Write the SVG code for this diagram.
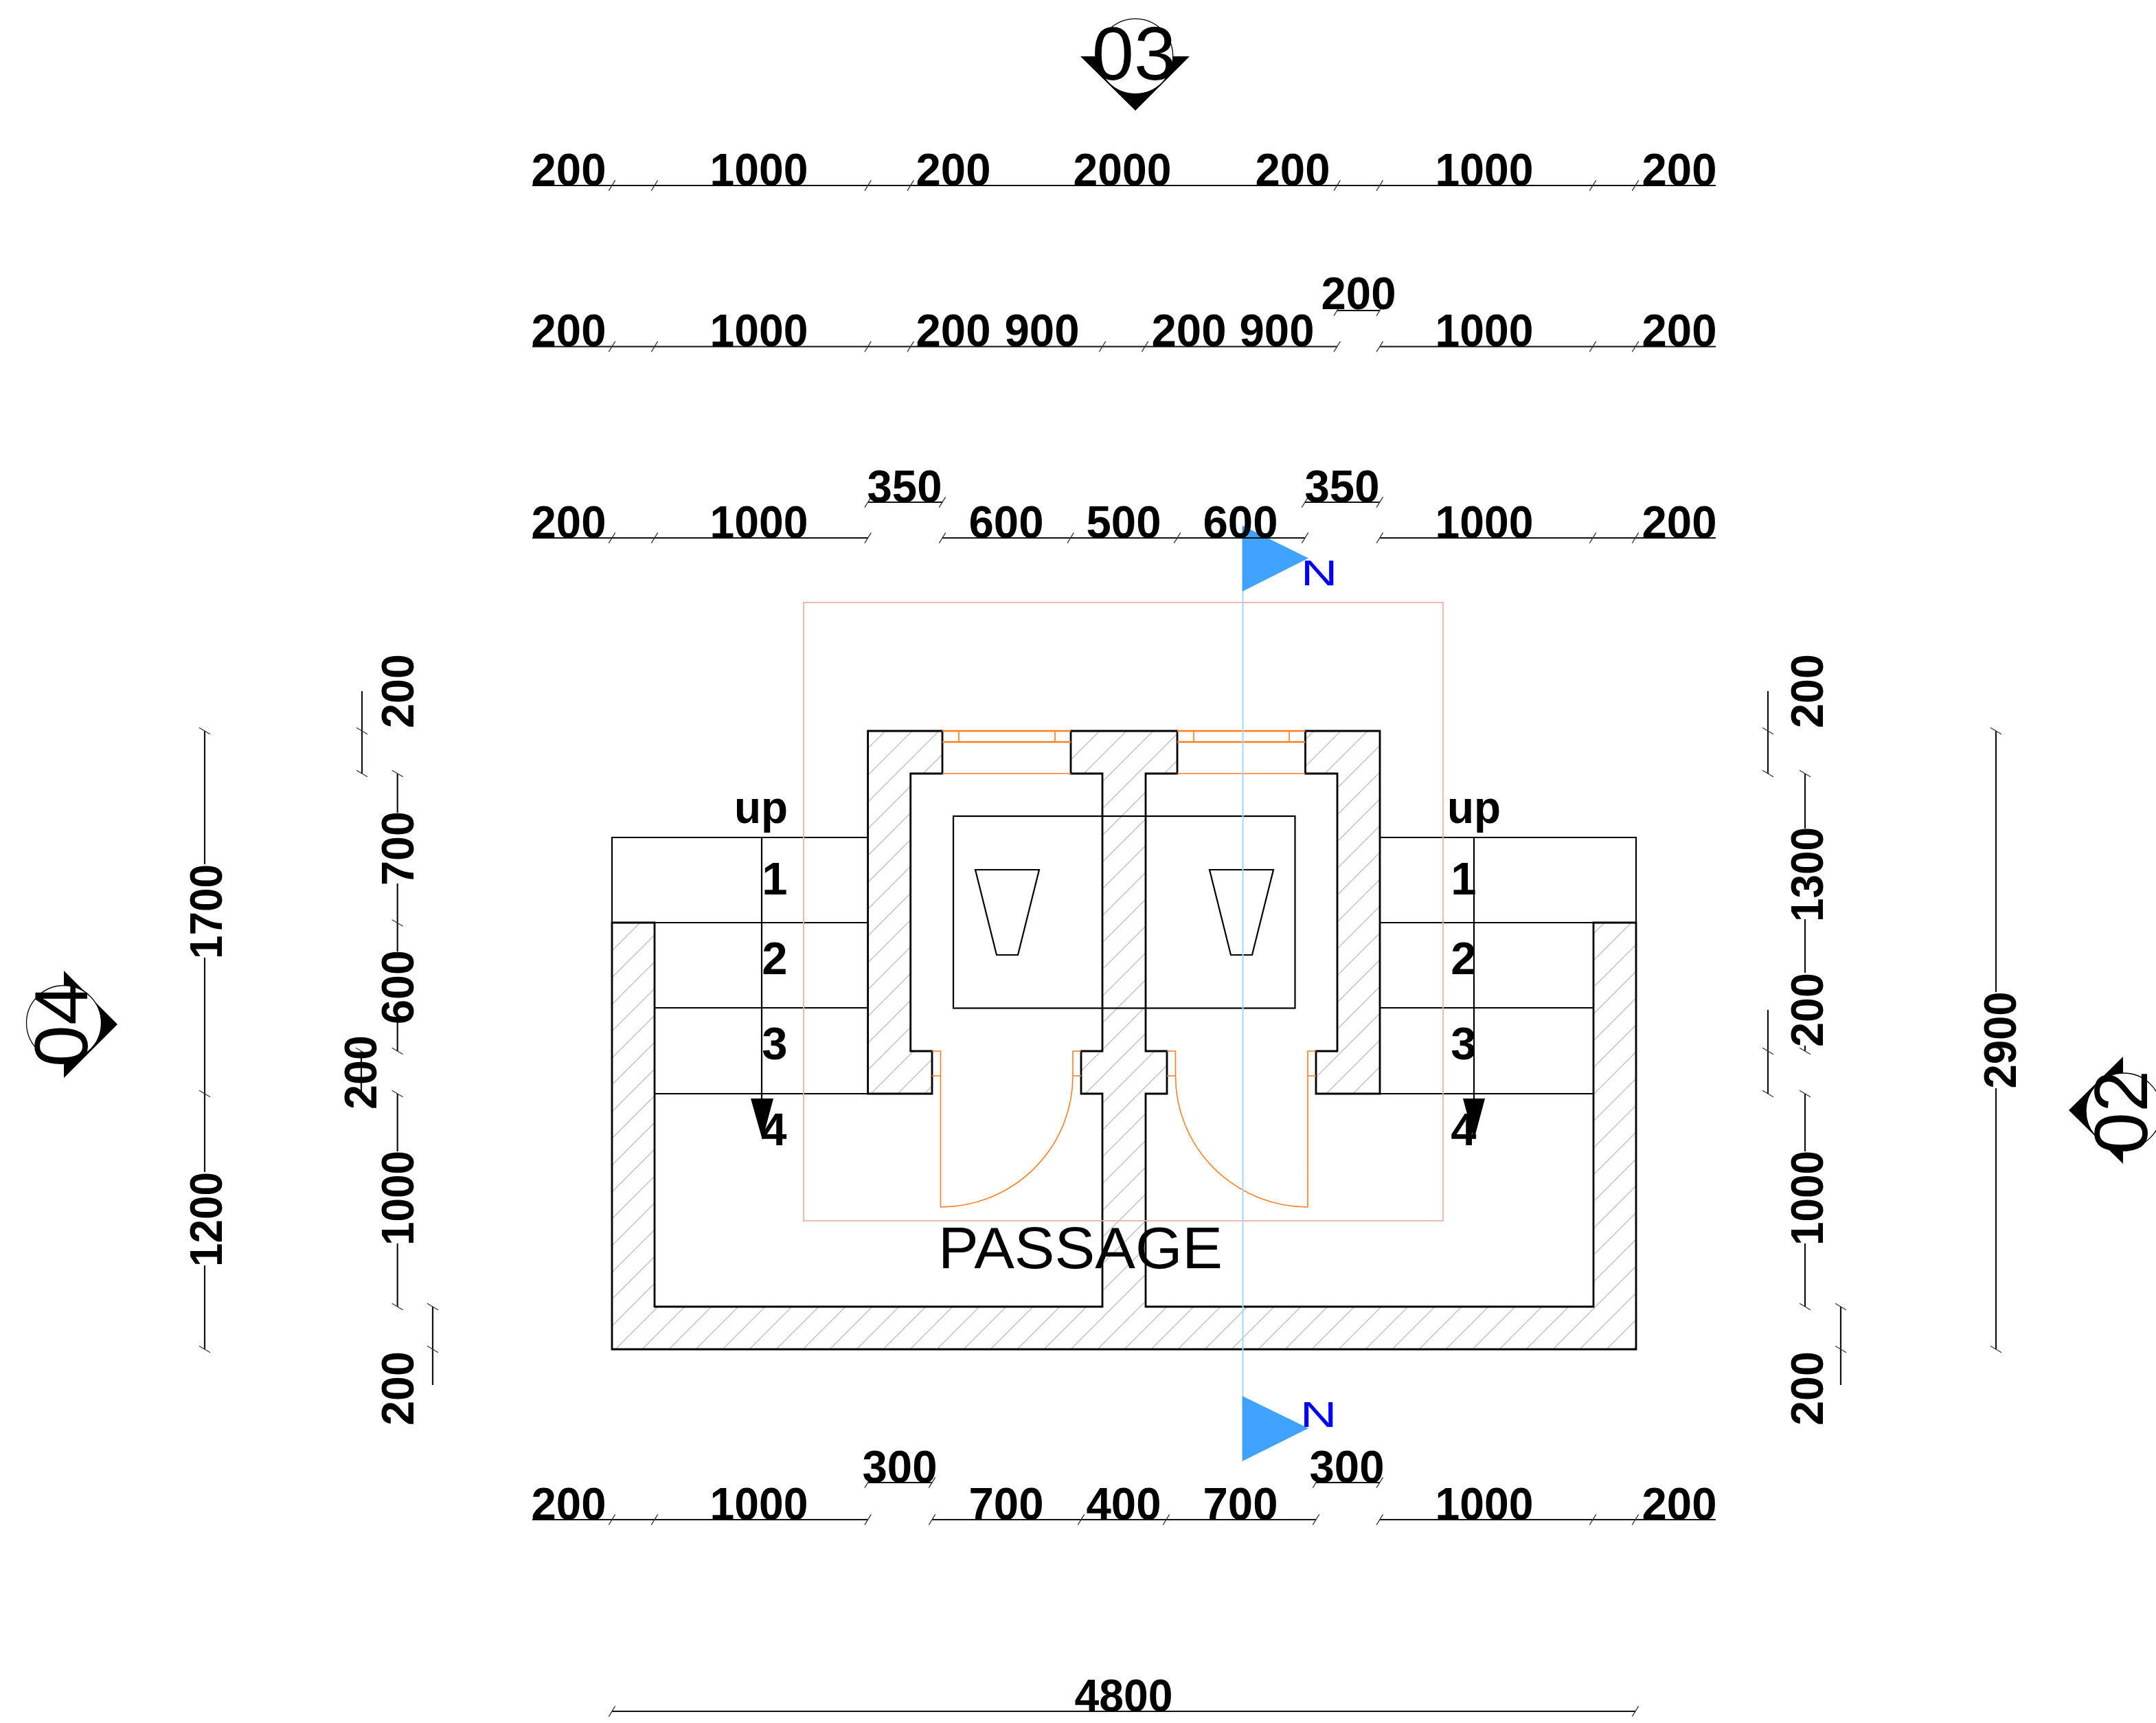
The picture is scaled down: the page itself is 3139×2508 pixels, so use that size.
<svg xmlns="http://www.w3.org/2000/svg" width="3139" height="2508" viewBox="0 0 3139 2508">
<style>
text{font-family:"Liberation Sans",Arial,sans-serif;fill:#000}
.d{font-size:67px;font-weight:700;text-anchor:middle}
.s{font-size:110px;text-anchor:middle}
.wall{fill:url(#hatch);stroke:#000;stroke-width:2.8;stroke-linejoin:miter}
.ln{fill:none;stroke:#000;stroke-width:2.2}
.dim{fill:none;stroke:#111;stroke-width:2.2}
.tick{fill:none;stroke:#333;stroke-width:1.3}
.or{fill:none;stroke:#ff7f27;stroke-width:1.6}
.or2{fill:none;stroke:#ff7f27;stroke-width:2.4}
.n{font-size:52px;fill:#0000ff}
</style>
<defs>
<pattern id="hatch" patternUnits="userSpaceOnUse" width="39" height="39" patternTransform="translate(13 0)">
<path d="M-1 1L1-1M0 39L39 0M38 40L40 38" stroke="#bdbdbd" stroke-width="1.3" fill="none"/>
</pattern>
<path id="th" class="tick" d="M-4.7 7.7L4.7-7.7"/>
<path id="tv" class="tick" d="M-8-4.7L8 4.7"/>
</defs>
<rect width="3139" height="2508" fill="#fff"/>
<g id="walls">
<path class="wall" d="M1263.6 1064H1372V1126H1325.7V1530H1357V1592H1263.6Z"/>
<path class="wall" d="M2009 1064H1900.5V1126H1947V1530H1916V1592H2009Z"/>
<path class="wall" d="M1559 1064H1714V1126H1668V1530H1699V1592H1668V1902H2320V1343H2382V1964H891V1343H953V1902H1605V1592H1574V1530H1605V1126H1559Z"/>
</g>
<g id="stairs">
<path class="ln" d="M1263.6 1219H891V1343H1263.6M953 1467H1263.6M953 1592H1263.6"/>
<path class="ln" d="M2009 1219H2382V1343M2009 1343H2382M2009 1467H2320M2009 1592H2320"/>
<path class="ln" d="M1109 1219V1600M2146 1219V1600"/>
<path d="M1093 1599H1126L1110 1659Z" fill="#000"/>
<path d="M2130 1599H2162L2146 1659Z" fill="#000"/>
<text class="d" x="1108" y="1198" textLength="78" lengthAdjust="spacingAndGlyphs">up</text>
<text class="d" x="1128" y="1302">1</text>
<text class="d" x="1128" y="1418">2</text>
<text class="d" x="1128" y="1542">3</text>
<text class="d" x="1127" y="1667">4</text>
<text class="d" x="2146" y="1198" textLength="78" lengthAdjust="spacingAndGlyphs">up</text>
<text class="d" x="2131" y="1302">1</text>
<text class="d" x="2131" y="1418">2</text>
<text class="d" x="2131" y="1542">3</text>
<text class="d" x="2131" y="1667">4</text>
</g>
<g id="fixtures">
<rect class="ln" x="1388" y="1188" width="497.5" height="279.5"/>
<path class="ln" d="M1420 1266H1513L1482 1390H1451Z"/>
<path class="ln" d="M1761 1266H1854L1823 1390H1792Z"/>
</g>
<g id="windows-doors">
<path class="or2" d="M1372 1064H1559M1372 1080H1559M1714 1064H1900.5M1714 1080H1900.5"/>
<path class="or" d="M1396 1064V1080M1536 1064V1080M1738 1064V1080M1877 1064V1080M1372 1126H1559M1714 1126H1900.5"/>
<path class="or" d="M1357 1530H1369.5V1757A193 191 0 0 0 1562 1566V1530H1574M1357 1566H1369.5M1562 1566H1574"/>
<path class="or" d="M1699 1530H1711.5V1566A193 191 0 0 0 1904 1757V1530H1916M1699 1566H1711.5M1904 1566H1916"/>
</g>
<rect id="boundary" x="1170" y="877" width="931" height="900" fill="none" stroke="#e8b4aa" stroke-width="1.8"/>
<text x="1366" y="1846" font-size="86" textLength="414" lengthAdjust="spacingAndGlyphs">PASSAGE</text>
<g id="axis">
<path d="M1809.5 770V2120" stroke="#a9d5ff" stroke-width="2" fill="none"/>
<path d="M1808.7 765V861L1905 812.5Z" fill="#3fa3ff"/>
<path d="M1808.7 2032V2127L1905 2079Z" fill="#3fa3ff"/>
<text class="n" transform="translate(1894 852) scale(1.42 1)">N</text>
<text class="n" transform="translate(1893 2077) scale(1.42 1)">N</text>
</g>
<g id="marker-03">
<path d="M1573 82H1732L1653 161Z" fill="#000"/>
<circle cx="1653" cy="82" r="54.7" fill="#fff" stroke="#000" stroke-width="1.3"/>
<text class="s" x="1651" y="116">03</text>
</g>
<g id="marker-04">
<path d="M93 1413V1569L171 1491Z" fill="#000"/>
<circle cx="93" cy="1489" r="54.5" fill="#fff" stroke="#000" stroke-width="1.3"/>
<text class="s" transform="rotate(-90 127 1492)" x="127" y="1492">04</text>
</g>
<g id="marker-02">
<path d="M3091 1538V1694L3012 1616Z" fill="#000"/>
<circle cx="3092" cy="1617" r="55" fill="#fff" stroke="#000" stroke-width="1.3"/>
<text class="s" transform="rotate(-90 3126 1619)" x="3126" y="1619">02</text>
</g>
<g id="connectors">
<path class="dim" d="M775 270H2498M775 504.500H1947M2009 504.500H2498M1947 452H2009M775 783H1264M1372 783H1900M2009 783H2498M1264 731H1372M1900 731H2009M775 2212H1264M1357 2212H1916M2009 2212H2498M1264 2158H1357M1916 2158H2009M891 2491H2381"/>
<path class="dim" d="M298 1064V1258M298 1394V1706M298 1842V1964M527 1006V1126M578.7 1126V1183M578.7 1286V1385M578.7 1487V1530M526 1530V1592M578.7 1592V1676M578.7 1810V1902M630 1902V2016"/>
<path class="dim" d="M2574 1006V1126M2628 1126V1206M2628 1338V1416M2628 1522V1530M2574 1470V1592M2628 1592V1676M2628 1810V1902M2680 1902V2016M2906 1064V1444M2906 1584V1964"/>
<g id="ticks-h">
<use href="#th" x="891" y="270"/><use href="#th" x="953" y="270"/><use href="#th" x="1263.6" y="270"/><use href="#th" x="1325.7" y="270"/><use href="#th" x="1946.7" y="270"/><use href="#th" x="2008.8" y="270"/><use href="#th" x="2319" y="270"/><use href="#th" x="2381" y="270"/>
<use href="#th" x="891" y="504.500"/><use href="#th" x="953" y="504.500"/><use href="#th" x="1263.6" y="504.500"/><use href="#th" x="1325.7" y="504.500"/><use href="#th" x="1605" y="504.500"/><use href="#th" x="1667" y="504.500"/><use href="#th" x="1946.7" y="504.500"/><use href="#th" x="2008.8" y="504.500"/><use href="#th" x="2319" y="504.500"/><use href="#th" x="2381" y="504.500"/><use href="#th" x="1946.7" y="452"/><use href="#th" x="2008.8" y="452"/>
<use href="#th" x="891" y="783"/><use href="#th" x="953" y="783"/><use href="#th" x="1263.6" y="783"/><use href="#th" x="1372" y="783"/><use href="#th" x="1558.6" y="783"/><use href="#th" x="1714" y="783"/><use href="#th" x="1900" y="783"/><use href="#th" x="2008.8" y="783"/><use href="#th" x="2319" y="783"/><use href="#th" x="2381" y="783"/><use href="#th" x="1263.6" y="731"/><use href="#th" x="1372" y="731"/><use href="#th" x="1900" y="731"/><use href="#th" x="2008.8" y="731"/>
<use href="#th" x="891" y="2212"/><use href="#th" x="953" y="2212"/><use href="#th" x="1263.6" y="2212"/><use href="#th" x="1357" y="2212"/><use href="#th" x="1574" y="2212"/><use href="#th" x="1698" y="2212"/><use href="#th" x="1916" y="2212"/><use href="#th" x="2008.8" y="2212"/><use href="#th" x="2319" y="2212"/><use href="#th" x="2381" y="2212"/><use href="#th" x="1263.6" y="2158"/><use href="#th" x="1357" y="2158"/><use href="#th" x="1916" y="2158"/><use href="#th" x="2008.8" y="2158"/>
<use href="#th" x="891" y="2491"/><use href="#th" x="2381" y="2491"/>
</g>
<g id="ticks-v">
<use href="#tv" x="298" y="1064"/><use href="#tv" x="298" y="1592"/><use href="#tv" x="298" y="1964"/>
<use href="#tv" x="527" y="1064"/><use href="#tv" x="527" y="1126"/><use href="#tv" x="578.7" y="1126"/><use href="#tv" x="578.7" y="1343.5"/><use href="#tv" x="578.7" y="1530"/><use href="#tv" x="526" y="1530"/><use href="#tv" x="526" y="1592"/><use href="#tv" x="578.7" y="1592"/><use href="#tv" x="578.7" y="1902"/><use href="#tv" x="630" y="1902"/><use href="#tv" x="630" y="1964"/>
<use href="#tv" x="2574" y="1064"/><use href="#tv" x="2574" y="1126"/><use href="#tv" x="2628" y="1126"/><use href="#tv" x="2628" y="1530"/><use href="#tv" x="2574" y="1530"/><use href="#tv" x="2574" y="1592"/><use href="#tv" x="2628" y="1592"/><use href="#tv" x="2628" y="1902"/><use href="#tv" x="2680" y="1902"/><use href="#tv" x="2680" y="1964"/>
<use href="#tv" x="2906" y="1064"/><use href="#tv" x="2906" y="1964"/>
</g>
</g>
<g id="dim-labels" lengthAdjust="spacingAndGlyphs">
<text class="d" x="828" y="270" textLength="109" lengthAdjust="spacingAndGlyphs">200</text><text class="d" x="1105" y="270" textLength="143" lengthAdjust="spacingAndGlyphs">1000</text><text class="d" x="1388" y="270" textLength="109" lengthAdjust="spacingAndGlyphs">200</text><text class="d" x="1634" y="270" textLength="143" lengthAdjust="spacingAndGlyphs">2000</text><text class="d" x="1882" y="270" textLength="109" lengthAdjust="spacingAndGlyphs">200</text><text class="d" x="2161" y="270" textLength="143" lengthAdjust="spacingAndGlyphs">1000</text><text class="d" x="2445" y="270" textLength="109" lengthAdjust="spacingAndGlyphs">200</text>
<text class="d" x="828" y="504" textLength="109" lengthAdjust="spacingAndGlyphs">200</text><text class="d" x="1105" y="504" textLength="143" lengthAdjust="spacingAndGlyphs">1000</text><text class="d" x="1388" y="504" textLength="109" lengthAdjust="spacingAndGlyphs">200</text><text class="d" x="1517" y="504" textLength="109" lengthAdjust="spacingAndGlyphs">900</text><text class="d" x="1731" y="504" textLength="109" lengthAdjust="spacingAndGlyphs">200</text><text class="d" x="1859" y="504" textLength="109" lengthAdjust="spacingAndGlyphs">900</text><text class="d" x="1978" y="450" textLength="109" lengthAdjust="spacingAndGlyphs">200</text><text class="d" x="2161" y="504" textLength="143" lengthAdjust="spacingAndGlyphs">1000</text><text class="d" x="2445" y="504" textLength="109" lengthAdjust="spacingAndGlyphs">200</text>
<text class="d" x="828" y="783" textLength="109" lengthAdjust="spacingAndGlyphs">200</text><text class="d" x="1105" y="783" textLength="143" lengthAdjust="spacingAndGlyphs">1000</text><text class="d" x="1317" y="731" textLength="109" lengthAdjust="spacingAndGlyphs">350</text><text class="d" x="1465" y="783" textLength="109" lengthAdjust="spacingAndGlyphs">600</text><text class="d" x="1636" y="783" textLength="109" lengthAdjust="spacingAndGlyphs">500</text><text class="d" x="1806" y="783" textLength="109" lengthAdjust="spacingAndGlyphs">600</text><text class="d" x="1954" y="731" textLength="109" lengthAdjust="spacingAndGlyphs">350</text><text class="d" x="2161" y="783" textLength="143" lengthAdjust="spacingAndGlyphs">1000</text><text class="d" x="2445" y="783" textLength="109" lengthAdjust="spacingAndGlyphs">200</text>
<text class="d" x="828" y="2212" textLength="109" lengthAdjust="spacingAndGlyphs">200</text><text class="d" x="1105" y="2212" textLength="143" lengthAdjust="spacingAndGlyphs">1000</text><text class="d" x="1310" y="2158" textLength="109" lengthAdjust="spacingAndGlyphs">300</text><text class="d" x="1465" y="2212" textLength="109" lengthAdjust="spacingAndGlyphs">700</text><text class="d" x="1636" y="2212" textLength="109" lengthAdjust="spacingAndGlyphs">400</text><text class="d" x="1806" y="2212" textLength="109" lengthAdjust="spacingAndGlyphs">700</text><text class="d" x="1961" y="2158" textLength="109" lengthAdjust="spacingAndGlyphs">300</text><text class="d" x="2161" y="2212" textLength="143" lengthAdjust="spacingAndGlyphs">1000</text><text class="d" x="2445" y="2212" textLength="109" lengthAdjust="spacingAndGlyphs">200</text>
<text class="d" x="1636" y="2491" textLength="143" lengthAdjust="spacingAndGlyphs">4800</text>
<text class="d" transform="rotate(-90 323 1327)" x="323" y="1327" textLength="138" lengthAdjust="spacingAndGlyphs">1700</text>
<text class="d" transform="rotate(-90 323 1775)" x="323" y="1775" textLength="138" lengthAdjust="spacingAndGlyphs">1200</text>
<text class="d" transform="rotate(-90 602 1006)" x="602" y="1006" textLength="108" lengthAdjust="spacingAndGlyphs">200</text>
<text class="d" transform="rotate(-90 602 1235)" x="602" y="1235" textLength="108" lengthAdjust="spacingAndGlyphs">700</text>
<text class="d" transform="rotate(-90 602 1437)" x="602" y="1437" textLength="108" lengthAdjust="spacingAndGlyphs">600</text>
<text class="d" transform="rotate(-90 548 1561)" x="548" y="1561" textLength="108" lengthAdjust="spacingAndGlyphs">200</text>
<text class="d" transform="rotate(-90 602 1744)" x="602" y="1744" textLength="138" lengthAdjust="spacingAndGlyphs">1000</text>
<text class="d" transform="rotate(-90 602 2021)" x="602" y="2021" textLength="108" lengthAdjust="spacingAndGlyphs">200</text>
<text class="d" transform="rotate(-90 2654 1006)" x="2654" y="1006" textLength="108" lengthAdjust="spacingAndGlyphs">200</text>
<text class="d" transform="rotate(-90 2654 1273)" x="2654" y="1273" textLength="138" lengthAdjust="spacingAndGlyphs">1300</text>
<text class="d" transform="rotate(-90 2654 1470)" x="2654" y="1470" textLength="108" lengthAdjust="spacingAndGlyphs">200</text>
<text class="d" transform="rotate(-90 2654 1744)" x="2654" y="1744" textLength="138" lengthAdjust="spacingAndGlyphs">1000</text>
<text class="d" transform="rotate(-90 2654 2021)" x="2654" y="2021" textLength="108" lengthAdjust="spacingAndGlyphs">200</text>
<text class="d" transform="rotate(-90 2935 1514)" x="2935" y="1514" textLength="141" lengthAdjust="spacingAndGlyphs">2900</text>
</g>
</svg>
